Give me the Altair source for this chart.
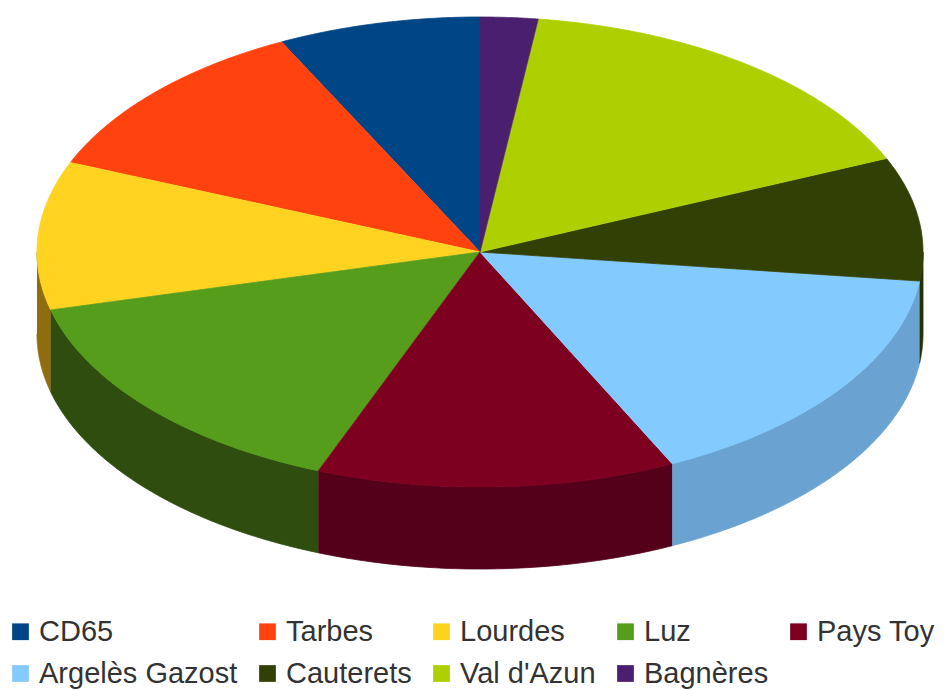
import altair as alt
import pandas as pd

names = ["CD65", "Tarbes", "Lourdes", "Luz", "Pays Toy",
         "Argelès Gazost", "Cauterets", "Val d'Azun", "Bagnères"]
shares = [7.4, 11.4, 10.2, 15.1, 13.1, 15.9, 8.5, 16.4, 2.1]
colors = ["#004586", "#ff420e", "#ffd320", "#579d1c", "#7e0021",
          "#83caff", "#314004", "#aecf00", "#4b1f6f"]
side_colors = ["#00305e", "#b02e0a", "#8f6c0e", "#2e4d0e", "#54001a",
               "#6aa3d2", "#253003", "#7a9100", "#341650"]

DEPTH = 82 / 235  # thickness of the 3D wall, in units of the vertical radius
N = 60

df = pd.DataFrame({"idx": list(range(len(names))), "name": names,
                   "share": shares, "scol": side_colors})

x_scale = alt.Scale(domain=[-1, 1], nice=False, zero=False)
y_scale = alt.Scale(domain=[-1 - DEPTH, 1], nice=False, zero=False)

base = (
    alt.Chart(df)
    .transform_window(cum="sum(share)", sort=[alt.SortField("idx")], frame=[None, 0])
    .transform_joinaggregate(total="sum(share)")
    .transform_calculate(
        t0="2*PI*(datum.cum-datum.share)/datum.total",
        t1="2*PI*datum.cum/datum.total",
    )
)

side = (
    base.transform_calculate(
        s="max(datum.t0, PI/2)", e="min(datum.t1, 3*PI/2)"
    )
    .transform_filter("datum.e > datum.s")
    .transform_calculate(k=f"sequence(0, {2 * N + 2})")
    .transform_flatten(["k"])
    .transform_calculate(
        j=f"datum.k <= {N} ? datum.k : {2 * N + 1} - datum.k",
    )
    .transform_calculate(
        t=f"datum.s + datum.j/{N}*(datum.e-datum.s)",
    )
    .transform_calculate(
        px="-sin(datum.t)",
        py=f"datum.k <= {N} ? cos(datum.t) : cos(datum.t) - {DEPTH}",
    )
    .mark_line(filled=True, strokeWidth=0.8, interpolate="linear")
    .encode(
        x=alt.X("px:Q", scale=x_scale, axis=None),
        y=alt.Y("py:Q", scale=y_scale, axis=None),
        fill=alt.Fill("scol:N", scale=None),
        stroke=alt.Stroke("scol:N", scale=None),
        detail="name:N",
        order=alt.Order("k:Q"),
    )
)

top = (
    base.transform_calculate(k=f"sequence(0, {N + 2})")
    .transform_flatten(["k"])
    .transform_calculate(t=f"datum.t0 + (datum.k-1)/{N}*(datum.t1-datum.t0)")
    .transform_calculate(
        px="datum.k == 0 ? 0 : -sin(datum.t)",
        py="datum.k == 0 ? 0 : cos(datum.t)",
    )
    .mark_line(filled=True, strokeWidth=0.8, interpolate="linear")
    .encode(
        x=alt.X("px:Q", scale=x_scale, axis=None),
        y=alt.Y("py:Q", scale=y_scale, axis=None),
        fill=alt.Fill(
            "name:N",
            scale=alt.Scale(domain=names, range=colors),
            legend=alt.Legend(
                title=None,
                orient="none",
                legendX=-31,
                legendY=600,
                direction="horizontal",
                columns=5,
                symbolType="square",
                symbolSize=280,
                symbolStrokeWidth=0,
                symbolOpacity=1,
                labelFont="Liberation Sans",
                labelFontSize=29,
                labelColor="#333333",
                labelOffset=4,
                labelLimit=0,
                columnPadding=15,
                rowPadding=12,
            ),
        ),
        stroke=alt.Stroke(
            "name:N", scale=alt.Scale(domain=names, range=colors), legend=None
        ),
        detail="name:N",
        order=alt.Order("k:Q"),
    )
)

chart = (
    alt.layer(side, top)
    .properties(
        width=886,
        height=552,
        autosize=alt.AutoSizeParams(type="none"),
        padding={"left": 29, "top": 9, "right": 18, "bottom": 130},
    )
    .configure_view(stroke=None)
)

chart.save("out.html", embed_options={"renderer": "svg", "actions": False})
